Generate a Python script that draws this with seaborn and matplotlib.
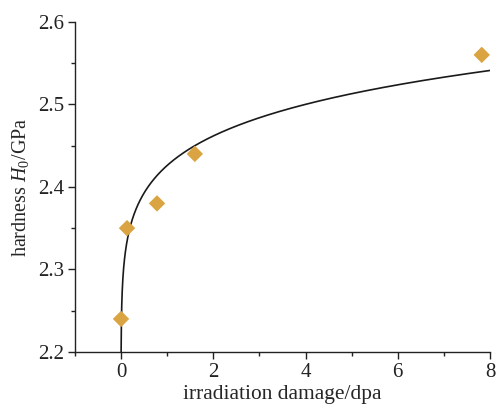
import numpy as np
import pandas as pd
import matplotlib
matplotlib.use("Agg")
import matplotlib.pyplot as plt
import seaborn as sns
from matplotlib.ticker import MultipleLocator

# measured data
damage_dpa = [0.0, 0.13, 0.78, 1.6, 7.82]
hardness_gpa = [2.24, 2.35, 2.38, 2.44, 2.56]

# fitted curve parameters: H = a + b * x^n
fit_a = 1.928
fit_b = 0.498
fit_n = 0.1

x_ticks = [0, 2, 4, 6, 8]
y_ticks = [2.2, 2.3, 2.4, 2.5, 2.6]

sns.set_style("ticks")
plt.rcParams['font.family'] = ['Liberation Serif', 'DejaVu Serif']
plt.rcParams['mathtext.fontset'] = 'custom'
plt.rcParams['mathtext.rm'] = 'Liberation Serif'
plt.rcParams['mathtext.it'] = 'Liberation Serif:italic'

fig = plt.figure(figsize=(4.96, 4.05), dpi=100)
ax = fig.add_axes([0.151, 0.131, 0.837, 0.815])

xf = np.linspace(0, 8, 3000)
curve = pd.DataFrame({"x": xf, "y": fit_a + fit_b * xf ** fit_n})
sns.lineplot(data=curve, x="x", y="y", color="#1a1a1a", lw=1.2, ax=ax,
             estimator=None, sort=False)

pts = pd.DataFrame({"x": damage_dpa, "y": hardness_gpa})
sns.scatterplot(data=pts, x="x", y="y", marker="D", s=70, color="#DBA443",
                edgecolor="none", ax=ax, zorder=3, clip_on=False)

ax.set_xlim(-1, 8)
ax.set_ylim(2.2, 2.6)
ax.set_xticks(x_ticks)
ax.set_yticks(y_ticks)
ax.set_yticklabels([f"{v:.1f}" for v in y_ticks])
ax.xaxis.set_minor_locator(MultipleLocator(1))
ax.yaxis.set_minor_locator(MultipleLocator(0.05))
ax.tick_params(which="major", direction="out", length=5, width=1, labelsize=15,
               colors="#222222", pad=3)
ax.tick_params(which="minor", direction="out", length=3, width=1, colors="#222222")
for s in ["top", "right"]:
    ax.spines[s].set_visible(False)
for s in ["left", "bottom"]:
    ax.spines[s].set_linewidth(1.0)
    ax.spines[s].set_color("#222222")

ax.set_xlabel("irradiation damage/dpa", fontsize=15.4, labelpad=2)
ax.set_ylabel("hardness $H_0$/GPa", fontsize=14.5, labelpad=5)

fig.savefig("out.png", dpi=100)
